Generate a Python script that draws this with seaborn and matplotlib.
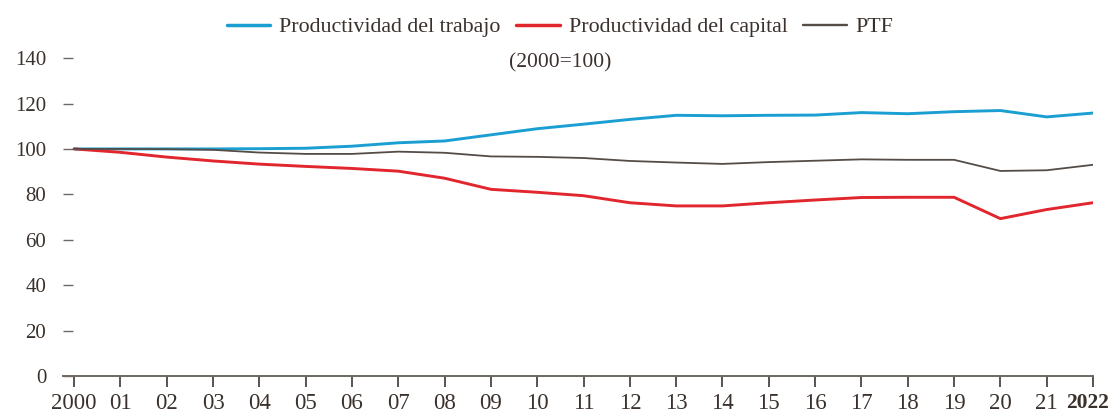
"""Productividad del trabajo, del capital y PTF (2000=100)."""

import matplotlib

matplotlib.use("Agg")

import matplotlib.pyplot as plt
import pandas as pd
import seaborn as sns
from matplotlib.lines import Line2D
from matplotlib.transforms import ScaledTranslation


years = list(range(2000, 2023))
tick_labels = ["2000"] + [f"{y % 100:02d}" for y in range(2001, 2022)] + ["2022"]

trabajo = [100.0, 100.0, 100.0, 100.0, 100.1, 100.3, 101.2, 102.7, 103.5, 106.2, 108.9,
           110.9, 113.0, 114.8, 114.6, 114.8, 114.9, 116.0, 115.5, 116.4, 116.9, 114.1, 115.8]
capital = [100.0, 98.5, 96.4, 94.7, 93.3, 92.3, 91.4, 90.2, 87.1, 82.2, 80.9,
           79.4, 76.3, 74.9, 74.9, 76.3, 77.5, 78.6, 78.7, 78.7, 69.3, 73.3, 76.3]
ptf = [100.0, 100.0, 99.9, 99.6, 98.4, 97.8, 97.8, 98.8, 98.3, 96.7, 96.5,
       96.0, 94.7, 94.0, 93.4, 94.2, 94.8, 95.4, 95.2, 95.2, 90.3, 90.6, 93.0]

series_names = ["Productividad del trabajo", "Productividad del capital", "PTF"]
colors = {"Productividad del trabajo": "#1b9fd2",
          "Productividad del capital": "#e2262e",
          "PTF": "#544c47"}
widths = {"Productividad del trabajo": 2.1,
          "Productividad del capital": 2.1,
          "PTF": 1.3}

TEXT = "#3a312c"
AXIS = "#6e6762"


def main() -> None:
    sns.set_theme(style="white")
    plt.rcParams["font.family"] = ["Liberation Serif", "DejaVu Serif"]

    df = pd.DataFrame({"year": years,
                       series_names[0]: trabajo,
                       series_names[1]: capital,
                       series_names[2]: ptf})
    long = df.melt(id_vars="year", var_name="serie", value_name="valor")

    fig = plt.figure(figsize=(11.11, 4.12), dpi=100)
    ax = fig.add_axes([0.0567, 0.0874, 0.9271, 0.7716])

    for name in series_names:
        sns.lineplot(data=long[long["serie"] == name], x="year", y="valor",
                     color=colors[name], linewidth=widths[name], ax=ax,
                     legend=False)

    ax.set_xlim(1999.76, 2022)
    ax.set_ylim(0, 140)
    ax.set_xlabel("")
    ax.set_ylabel("")

    for side in ["top", "right", "left"]:
        ax.spines[side].set_visible(False)
    ax.spines["bottom"].set_color(AXIS)
    ax.spines["bottom"].set_linewidth(1.4)

    ax.set_xticks(years)
    ax.set_xticklabels(tick_labels)
    ax.set_yticks(range(0, 141, 20))

    ax.tick_params(axis="x", direction="out", length=8, width=1.1, color="#2d2622",
                   pad=4, labelsize=16.5, labelcolor=TEXT, bottom=True)
    ax.tick_params(axis="y", direction="in", length=7.5, width=1.0, color=AXIS,
                   pad=12, labelsize=15, labelcolor=TEXT, left=True)
    ax.grid(False)

    # last year in bold, nudged left so it stays inside the picture
    last = ax.get_xticklabels()[-1]
    last.set_fontweight("bold")
    last.set_fontsize(15.5)
    last.set_transform(last.get_transform() + ScaledTranslation(-0.06, 0, fig.dpi_scale_trans))

    handles = [Line2D([], [], color=colors[n], linewidth=widths[n] + 0.4) for n in series_names]
    fig.legend(handles, series_names, loc="center", bbox_to_anchor=(0.504, 0.934),
               ncol=3, frameon=False, fontsize=15.8, handlelength=2.0,
               handletextpad=0.4, columnspacing=0.7, labelcolor=TEXT)

    fig.text(0.504, 0.847, "(2000=100)", ha="center", va="center",
             fontsize=15.5, color=TEXT)

    fig.savefig("out.png", dpi=100)
    plt.close(fig)


if __name__ == "__main__":
    main()
